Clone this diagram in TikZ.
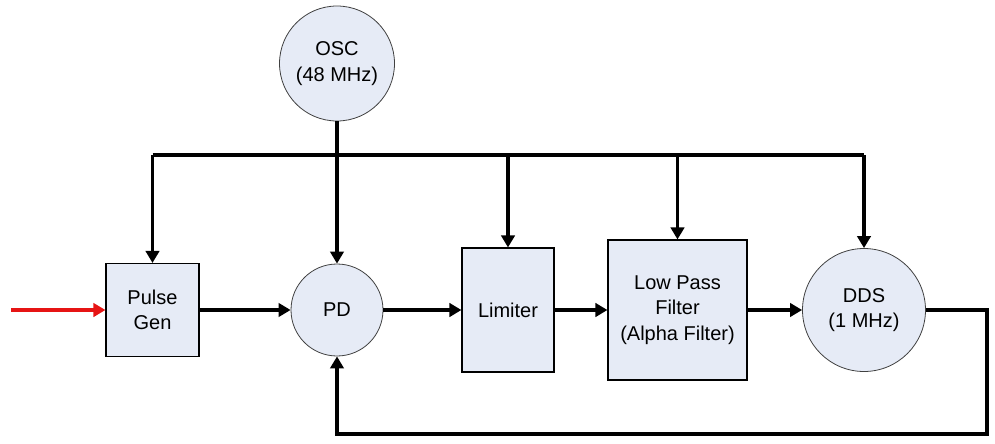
\documentclass[tikz,border=0pt]{standalone}
\usepackage{fontspec}
\setmainfont{Liberation Sans}
\usetikzlibrary{arrows.meta}
\definecolor{boxfill}{RGB}{230,235,246}
\definecolor{sigred}{RGB}{230,20,20}
\begin{document}
\begin{tikzpicture}[x=0.75pt,y=-0.75pt,
  blk/.style={draw=black,line width=0.8pt,fill=boxfill,align=center,inner sep=0pt,
     font=\fontsize{15pt}{19pt}\selectfont},
  rnd/.style={circle,draw=black!75,line width=0.6pt,fill=boxfill,align=center,inner sep=0pt,
     font=\fontsize{15pt}{19pt}\selectfont},
  wire/.style={line width=2.4pt,draw=black},
  arr/.style={wire,-{Triangle[length=9pt,width=10pt]}},
  redarr/.style={line width=2.4pt,draw=sigred,-{Triangle[length=9pt,width=10pt]}}]
\useasboundingbox (0,0) rectangle (995,443);

\node[rnd,minimum size=115*0.75pt] (osc) at (337,63.5) {OSC\\(48 MHz)};
\node[blk,minimum width=93*0.75pt,minimum height=93*0.75pt] (pg) at (152.5,310) {Pulse\\Gen};
\node[rnd,minimum size=92*0.75pt] (pd) at (337,310) {PD};
\node[blk,minimum width=92*0.75pt,minimum height=124*0.75pt] (lim) at (508,310) {Limiter};
\node[blk,minimum width=139*0.75pt,minimum height=140*0.75pt] (lpf) at (677.5,310) {Low Pass\\Filter\\(Alpha Filter)};
\node[rnd,minimum size=123*0.75pt] (dds) at (864,310) {DDS\\(1 MHz)};

\coordinate (busL) at (152.5,155);
\coordinate (busR) at (864,155);
\coordinate (in) at (11,310);
\coordinate (fb) at (987,434);

% bus
\draw[wire] (busL) -- (busR);
\draw[arr] (osc.south) -- (pd.north);
\draw[arr] (busL) -- (pg.north);
\draw[arr] (lim.north |- busL) -- (lim.north);
\draw[arr] (lpf.north |- busL) -- (lpf.north);
\draw[arr] (busR) -- (dds.north);

% signal chain
\draw[redarr] (in) -- (pg.west);
\draw[arr] (pg.east) -- (pd.west);
\draw[arr] (pd.east) -- (lim.west);
\draw[arr] (lim.east) -- (lpf.west);
\draw[arr] (lpf.east) -- (dds.west);

% feedback
\draw[arr] (dds.east) -| (fb) -| (pd.south);
\end{tikzpicture}
\end{document}
